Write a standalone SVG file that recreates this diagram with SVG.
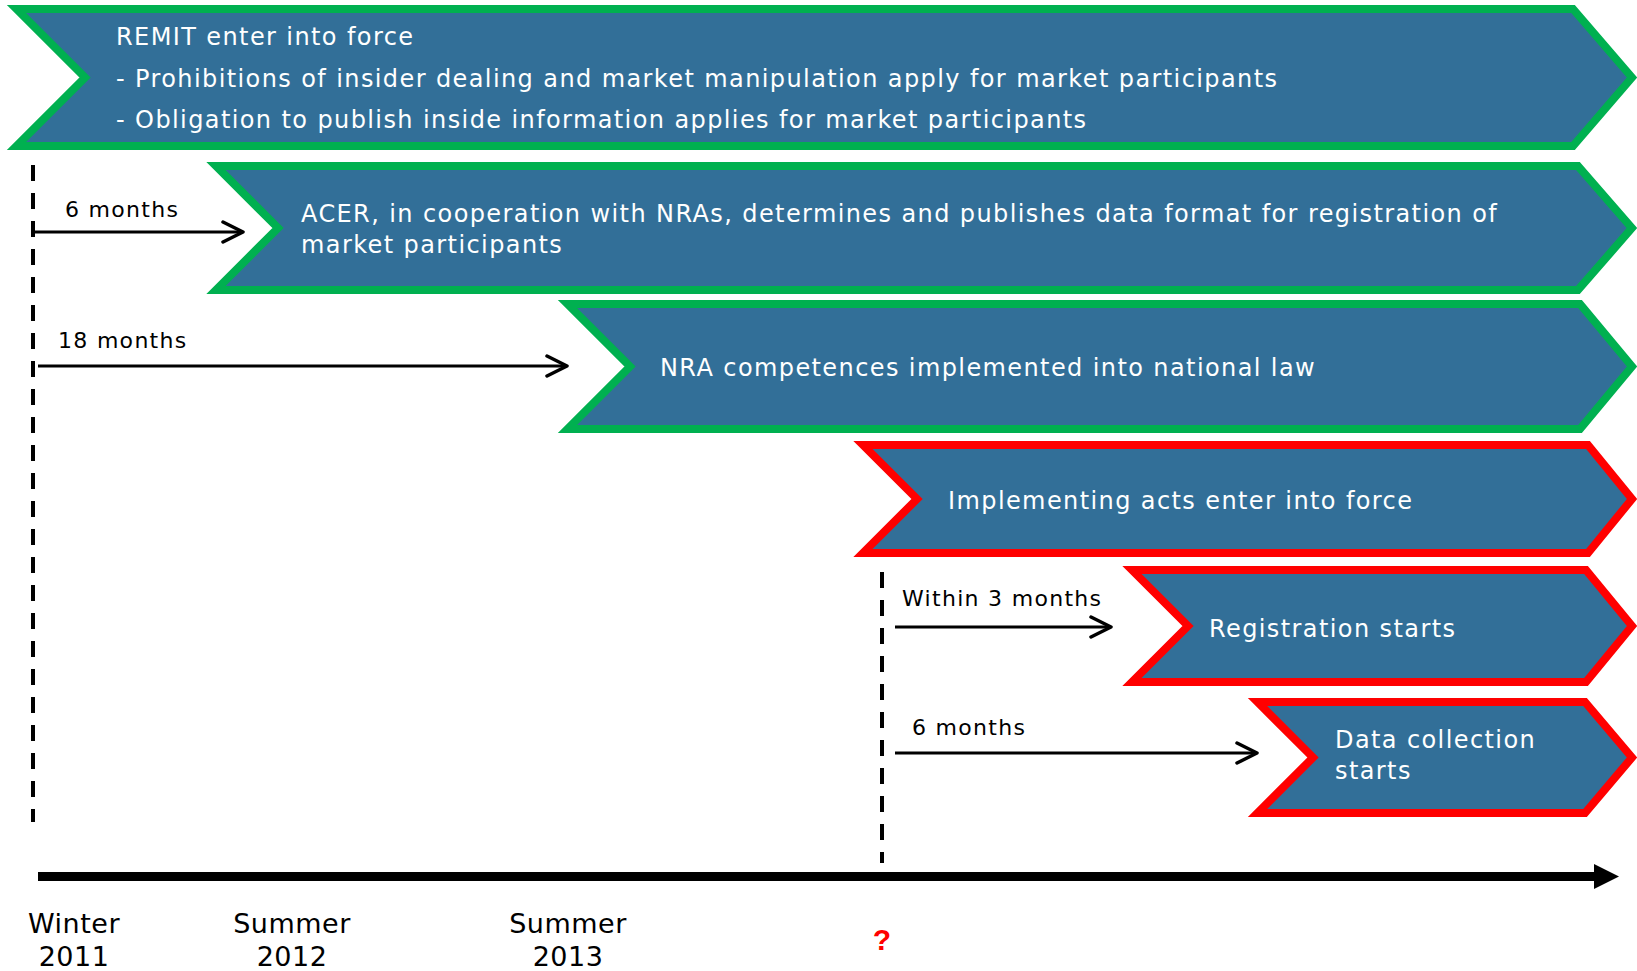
<svg xmlns="http://www.w3.org/2000/svg" width="1637" height="971" viewBox="0 0 1637 971">
<style>
.chev{fill:#326F98;stroke-width:8;stroke-linejoin:miter}
.g{stroke:#00B050}
.r{stroke:#FF0000}
.wt{font-family:"DejaVu Sans",Verdana,sans-serif;font-size:24px;fill:#FFFFFF;letter-spacing:1.4px}
.bt{font-family:"DejaVu Sans",Verdana,sans-serif;font-size:22px;fill:#000000;letter-spacing:1.3px}
.yt{font-family:"DejaVu Sans",Verdana,sans-serif;font-size:27px;fill:#000000;letter-spacing:0.5px;text-anchor:middle}
.arr{stroke:#000;stroke-width:3;fill:none}
.dash{stroke:#000;stroke-width:4;stroke-dasharray:16 12;fill:none}
</style>
<defs>
<marker id="open" markerUnits="userSpaceOnUse" markerWidth="26" markerHeight="26" refX="22" refY="12" orient="auto">
<path d="M2,2 L22,12 L2,22" fill="none" stroke="#000" stroke-width="3.5" stroke-linecap="round" stroke-linejoin="round"/>
</marker>
</defs>
<rect width="1637" height="971" fill="#FFFFFF"/>
<g id="remit">
<polygon class="chev g" points="16.5,9 1573,9 1632,77.5 1573,146 16.5,146 85,77.5"/>
<text class="wt" x="116" y="45">REMIT enter into force</text>
<text class="wt" x="116" y="87">- Prohibitions of insider dealing and market manipulation apply for market participants</text>
<text class="wt" x="116" y="128">- Obligation to publish inside information applies for market participants</text>
</g>
<g id="acer">
<polygon class="chev g" points="216,166 1578,166 1632,228 1578,290 216,290 278,228"/>
<text class="wt" x="301" y="222">ACER, in cooperation with NRAs, determines and publishes data format for registration of</text>
<text class="wt" x="301" y="253">market participants</text>
</g>
<g id="nra">
<polygon class="chev g" points="567.5,304 1580,304 1632,366.5 1580,429 567.5,429 630,366.5"/>
<text class="wt" x="660" y="376">NRA competences implemented into national law</text>
</g>
<g id="implementing">
<polygon class="chev r" points="863,445 1588,445 1632,499 1588,553 863,553 917,499"/>
<text class="wt" x="948" y="509">Implementing acts enter into force</text>
</g>
<g id="registration">
<polygon class="chev r" points="1132,570 1586,570 1632,626 1586,682 1132,682 1188,626"/>
<text class="wt" x="1209" y="637">Registration starts</text>
</g>
<g id="datacollection">
<polygon class="chev r" points="1257.5,702 1585,702 1632,757.5 1585,813 1257.5,813 1313,757.5"/>
<text class="wt" x="1335" y="748">Data collection</text>
<text class="wt" x="1335" y="779">starts</text>
</g>
<g id="connectors">
<line class="dash" x1="33" y1="165" x2="33" y2="822"/>
<line class="dash" x1="882" y1="572" x2="882" y2="863"/>
<line class="arr" x1="34" y1="232" x2="243" y2="232" marker-end="url(#open)"/>
<line class="arr" x1="38" y1="366" x2="567" y2="366" marker-end="url(#open)"/>
<line class="arr" x1="895" y1="627" x2="1111" y2="627" marker-end="url(#open)"/>
<line class="arr" x1="895" y1="753" x2="1257" y2="753" marker-end="url(#open)"/>
<line x1="38" y1="876.5" x2="1596" y2="876.5" stroke="#000" stroke-width="9"/>
<polygon points="1594,864 1619,876.5 1594,889" fill="#000"/>
</g>
<g id="labels">
<text class="bt" x="65" y="217">6 months</text>
<text class="bt" x="58" y="348">18 months</text>
<text class="bt" x="902" y="606">Within 3 months</text>
<text class="bt" x="912" y="735">6 months</text>
<text class="yt" x="74" y="933">Winter</text>
<text class="yt" x="74" y="966">2011</text>
<text class="yt" x="292" y="933">Summer</text>
<text class="yt" x="292" y="966">2012</text>
<text class="yt" x="568" y="933">Summer</text>
<text class="yt" x="568" y="966">2013</text>
<text x="882" y="950" font-family="'Liberation Sans',Arial,sans-serif" font-size="30px" font-weight="bold" fill="#FF0000" text-anchor="middle">?</text>
</g>
</svg>
